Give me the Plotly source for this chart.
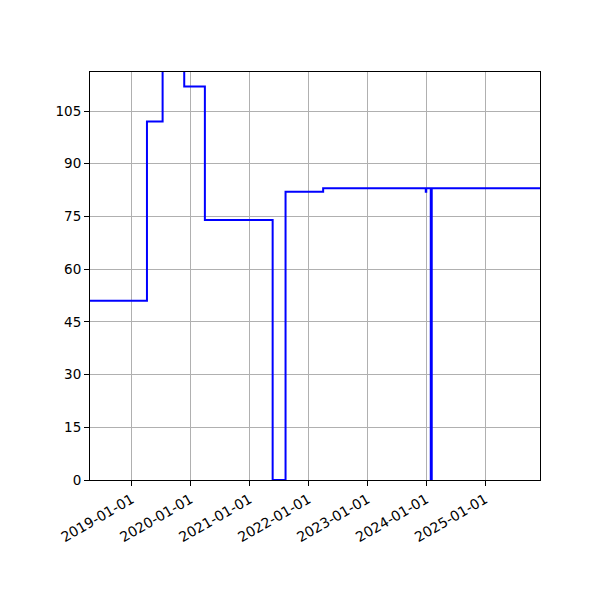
import plotly.graph_objects as go

# step changes (value holds until next date)
dates = ['2018-04-18', '2019-04-06', '2019-07-12', '2019-11-23', '2020-03-30',
         '2021-05-24', '2021-08-12', '2022-04-02', '2023-12-29', '2024-01-01',
         '2024-01-29', '2024-02-04', '2025-12-06']
values = [51, 102, 125, 112, 74,
          0, 82, 83, 82, 83,
          0, 83, 83]

x_ticks = ['2019-01-01', '2020-01-01', '2021-01-01', '2022-01-01',
           '2023-01-01', '2024-01-01', '2025-01-01']
y_ticks = [0, 15, 30, 45, 60, 75, 90, 105]

fig = go.Figure()
fig.add_trace(go.Scatter(x=dates, y=values, mode='lines', line_shape='hv',
                         line=dict(color='#0000ff', width=2), showlegend=False))

axis_style = dict(showline=True, linecolor='black', linewidth=1, mirror=True,
                  showgrid=True, gridcolor='#b0b0b0', gridwidth=0.8,
                  ticks='outside', ticklen=5, tickcolor='black', zeroline=False)

fig.update_xaxes(range=['2018-04-18', '2025-12-06'], tickvals=x_ticks, ticktext=x_ticks,
                 tickangle=-30, tickfont=dict(size=14), **axis_style)
fig.update_yaxes(range=[0, 116.1], tickvals=y_ticks, tickfont=dict(size=13.5), **axis_style)

# page body adds ~8px offset, so margins are shifted to compensate
fig.update_layout(width=600, height=600, plot_bgcolor='white', paper_bgcolor='white',
                  margin=dict(l=82, r=68, t=64, b=128),
                  font=dict(family='DejaVu Sans', size=13, color='black'))

fig.write_html("out.html")
